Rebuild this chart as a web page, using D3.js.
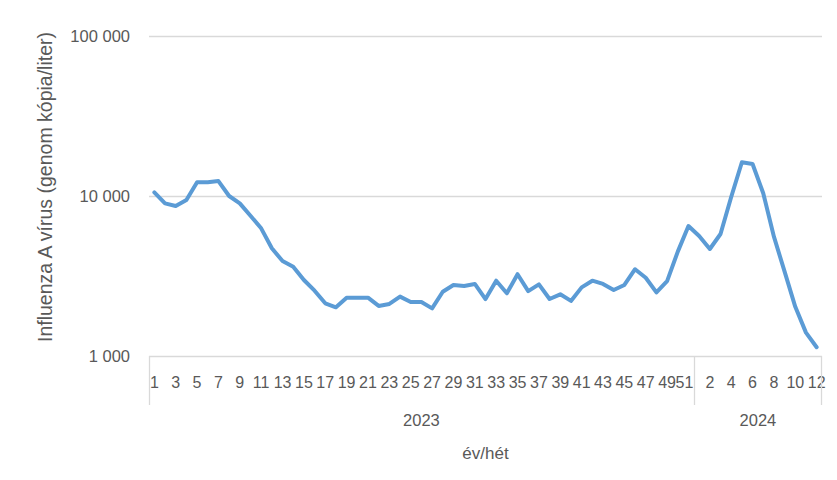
<!DOCTYPE html>
<html>
<head>
<meta charset="utf-8">
<script src="https://cdn.jsdelivr.net/npm/d3@7"></script>
<style>
  body { margin: 0; background: #fff; }
  text { font-family: "Liberation Sans", Arial, sans-serif; fill: #595959; }
</style>
</head>
<body>
<script>
// weeks per year, as on the category axis
var weeks2023 = [1,2,3,4,5,6,7,8,9,10,11,12,13,14,15,16,17,18,19,20,21,22,23,24,25,
  26,27,28,29,30,31,32,33,34,35,36,37,38,39,40,41,42,43,44,45,46,47,48,49,50,51]
var weeks2024 = [1,2,3,4,5,6,7,8,9,10,11,12]

// influenza A, genome copies / liter
var values2023 = [10540,9000,8660,9440,12190,12190,12400,10000,9000,7530,6280,4710,3920,3610,
  2985,2560,2135,2015,2315,2315,2315,2055,2115,2350,2175,2175,1985,2520,2780,2740,2820,2270,
  2955,2465,3245,2545,2805,2270,2430,2210,2685,2955,2820,2585,2780,3485,3085,2500,2940,4490,6490]
var values2024 = [5620,4665,5790,9860,16250,15850,10400,5570,3365,2030,1400,1135]

var yTicks = [1000, 10000, 100000]

var data = []
weeks2023.forEach(function(w, i){ data.push({year: "2023", week: w, value: values2023[i]}) })
weeks2024.forEach(function(w, i){ data.push({year: "2024", week: w, value: values2024[i]}) })

var width = 837,
    height = 480,
    plotLeft = 149, plotRight = 822, plotTop = 36, plotBottom = 356;

var svg = d3.select("body")
    .append("svg")
    .attr("width", width)
    .attr("height", height);

var x = d3.scaleBand()
    .domain(d3.range(data.length))
    .range([plotLeft, plotRight])
    .padding(0);

var y = d3.scaleLog()
    .domain([1000, 100000])
    .range([plotBottom, plotTop]);

var fmt = d3.formatLocale({decimal: ",", thousands: "\u00a0", grouping: [3], currency: ["", ""]}).format(",d");

// gridlines
svg.append("g")
    .selectAll("line")
    .data(yTicks)
    .enter().append("line")
    .attr("x1", plotLeft).attr("x2", plotRight)
    .attr("y1", function(d){ return Math.round(y(d)) + 0.5 })
    .attr("y2", function(d){ return Math.round(y(d)) + 0.5 })
    .attr("stroke", "#d9d9d9")
    .attr("stroke-width", 1.3);

// y tick labels
svg.append("g")
    .selectAll("text")
    .data(yTicks)
    .enter().append("text")
    .attr("x", 130)
    .attr("y", function(d){ return y(d) })
    .attr("dy", "0.35em")
    .attr("text-anchor", "end")
    .style("font-size", "16.5px")
    .text(function(d){ return fmt(d) });

// week labels, every second category
svg.append("g")
    .selectAll("text")
    .data(data.filter(function(d, i){ return i % 2 === 0 }))
    .enter().append("text")
    .attr("x", function(d){
        var i = data.indexOf(d), cx = x(i) + x.bandwidth() / 2;
        // keep the last label of a year clear of the group divider
        return i === weeks2023.length - 1 ? cx - 4 : cx })
    .attr("y", 388)
    .attr("text-anchor", "middle")
    .style("font-size", "16px")
    .text(function(d){ return d.week });

// year groups
var groups = [
  {year: "2023", start: 0, end: weeks2023.length},
  {year: "2024", start: weeks2023.length, end: data.length}
];

var edges = [0, weeks2023.length]
svg.append("g")
    .selectAll("line")
    .data(edges)
    .enter().append("line")
    .attr("x1", function(d){ return Math.round(x(d)) + 0.5 })
    .attr("x2", function(d){ return Math.round(x(d)) + 0.5 })
    .attr("y1", plotBottom).attr("y2", 405)
    .attr("stroke", "#d9d9d9")
    .attr("stroke-width", 1.3);

svg.append("line")
    .attr("x1", plotRight - 0.5).attr("x2", plotRight - 0.5)
    .attr("y1", plotBottom).attr("y2", 405)
    .attr("stroke", "#d9d9d9")
    .attr("stroke-width", 1.3);

svg.append("g")
    .selectAll("text")
    .data(groups)
    .enter().append("text")
    .attr("x", function(d){
        var a = x(d.start), b = d.end < data.length ? x(d.end) : plotRight;
        return (a + b) / 2 })
    .attr("y", 426)
    .attr("text-anchor", "middle")
    .style("font-size", "16.5px")
    .text(function(d){ return d.year });

// axis titles
svg.append("text")
    .attr("x", (plotLeft + plotRight) / 2)
    .attr("y", 459)
    .attr("text-anchor", "middle")
    .style("font-size", "17px")
    .text("év/hét");

svg.append("text")
    .attr("transform", "translate(52,187) rotate(-90)")
    .attr("text-anchor", "middle")
    .style("font-size", "19.5px")
    .text("Influenza A vírus (genom kópia/liter)");

// the series
var line = d3.line()
    .x(function(d, i){ return x(i) + x.bandwidth() / 2 })
    .y(function(d){ return y(d.value) });

svg.append("path")
    .datum(data)
    .attr("d", line)
    .attr("fill", "none")
    .attr("stroke", "#5b9bd5")
    .attr("stroke-width", 4)
    .attr("stroke-linejoin", "round")
    .attr("stroke-linecap", "round");
</script>
</body>
</html>
